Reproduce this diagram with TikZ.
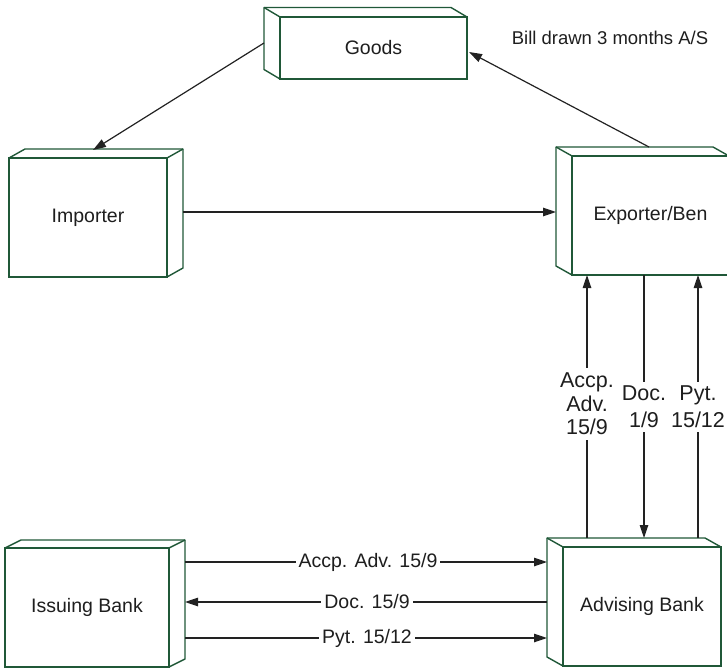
\documentclass[tikz,border=0pt]{standalone}
\usepackage{fontspec}
\setmainfont{Liberation Sans}
\usetikzlibrary{arrows.meta,calc}

\definecolor{boxgreen}{RGB}{32,88,56}
\definecolor{linegray}{RGB}{34,34,34}
\definecolor{inkgray}{RGB}{30,30,30}

\tikzset{
  front/.style={draw=boxgreen, line width=1.4pt, fill=white, inner sep=0pt, outer sep=0pt,
    text=inkgray, font=\fontsize{19.5}{22}\selectfont},
  faces/.style={draw=boxgreen, line width=1.4pt, line join=round},
  flow/.style={draw=linegray, line width=1.2pt, -{Triangle[length=13pt,width=8.5pt]}},
  hlabel/.style={fill=white, inner xsep=3pt, inner ysep=1pt, text=inkgray,
    font=\fontsize{19.5}{22}\selectfont},
  vlabel/.style={fill=white, inner xsep=1pt, inner ysep=4pt, align=center, text=inkgray,
    font=\fontsize{21.5}{23.5}\selectfont},
  note/.style={text=inkgray, font=\fontsize{18.5}{21}\selectfont}
}

% box whose depth recedes to the upper left
\newcommand{\boxleft}[3]{%
  \draw[faces] (#1.south west) -- ++(-#2,-#3) -- ($(#1.north west)+(-#2,-#3)$)
    -- ($(#1.north east)+(-#2,-#3)$) -- (#1.north east);
  \draw[faces] (#1.north west) -- ++(-#2,-#3);}
% box whose depth recedes to the upper right
\newcommand{\boxright}[3]{%
  \draw[faces] (#1.north west) -- ++(#2,-#3) -- ($(#1.north east)+(#2,-#3)$)
    -- ($(#1.south east)+(#2,-#3)$) -- (#1.south east);
  \draw[faces] (#1.north east) -- ++(#2,-#3);}

\begin{document}
\begin{tikzpicture}[x=1pt, y=-1pt]
\useasboundingbox (0,0) rectangle (727,668);

% parties and banks (front faces)
\node[front, minimum width=187pt, minimum height=62pt]  (goods) at (373.5,48)   {Goods};
\node[front, minimum width=158pt, minimum height=119pt] (imp)   at (88,217.5)   {Importer};
\node[front, minimum width=157pt, minimum height=119pt] (exp)   at (650.5,215.5){Exporter/Ben};
\node[front, minimum width=164pt, minimum height=119pt] (iss)   at (87,607.5)   {Issuing Bank};
\node[front, minimum width=158pt, minimum height=119pt] (adv)   at (642,606.5)  {Advising Bank};

% depth faces
\boxleft{goods}{16}{9.5}
\boxright{imp}{16}{9}
\boxleft{exp}{16}{9}
\boxright{iss}{16}{8}
\boxleft{adv}{16}{9}

% note beside the goods
\node[note] (bill) at (610,38) {Bill drawn 3 months A/S};

% attachment points on the box faces
\coordinate (goodsL) at ($(goods.west)+(-16,-5)$);
\coordinate (goodsR) at ($(goods.east)+(2,4)$);
\coordinate (impT)   at ($(imp.north)+(5,-8)$);
\coordinate (impR)   at ($(imp.east)+(16,-5.5)$);
\coordinate (expL)   at ($(exp.west)+(-16,-3.5)$);
\coordinate (expT)   at ($(exp.north)+(-1.5,-9)$);

% goods and contract flows
\draw[flow] (goodsL) -- (impT);
\draw[flow] (expT) -- (goodsR);
\draw[flow] (impR) -- (expL);

% exporter <-> advising bank
\coordinate (a1) at (587,538); \coordinate (e1) at (587,275);
\coordinate (a2) at (644,538); \coordinate (e2) at (644,275);
\coordinate (a3) at (698,538); \coordinate (e3) at (698,275);
\draw[flow] (a1) -- (e1);
\draw[flow] (e2) -- (a2);
\draw[flow] (a3) -- (e3);
\node[vlabel, inner ysep=5pt] (l1) at (587,404) {Accp.\\Adv.\\15/9};
\node[vlabel] (l2) at (644,407) {Doc.\\[3.5pt]1/9};
\node[vlabel] (l3) at (698,407) {Pyt.\\[3.5pt]15/12};

% issuing bank <-> advising bank
\coordinate (i1) at (185,562); \coordinate (b1) at (547,562);
\coordinate (i2) at (185,602); \coordinate (b2) at (547,602);
\coordinate (i3) at (185,638); \coordinate (b3) at (547,638);
\draw[flow] (i1) -- (b1);
\draw[flow] (b2) -- (i2);
\draw[flow] (i3) -- (b3);
\node[hlabel] (h1) at (368,562) {Accp. Adv. 15/9};
\node[hlabel] (h2) at (367,602) {Doc. 15/9};
\node[hlabel] (h3) at (367,638) {Pyt. 15/12};
\end{tikzpicture}
\end{document}
